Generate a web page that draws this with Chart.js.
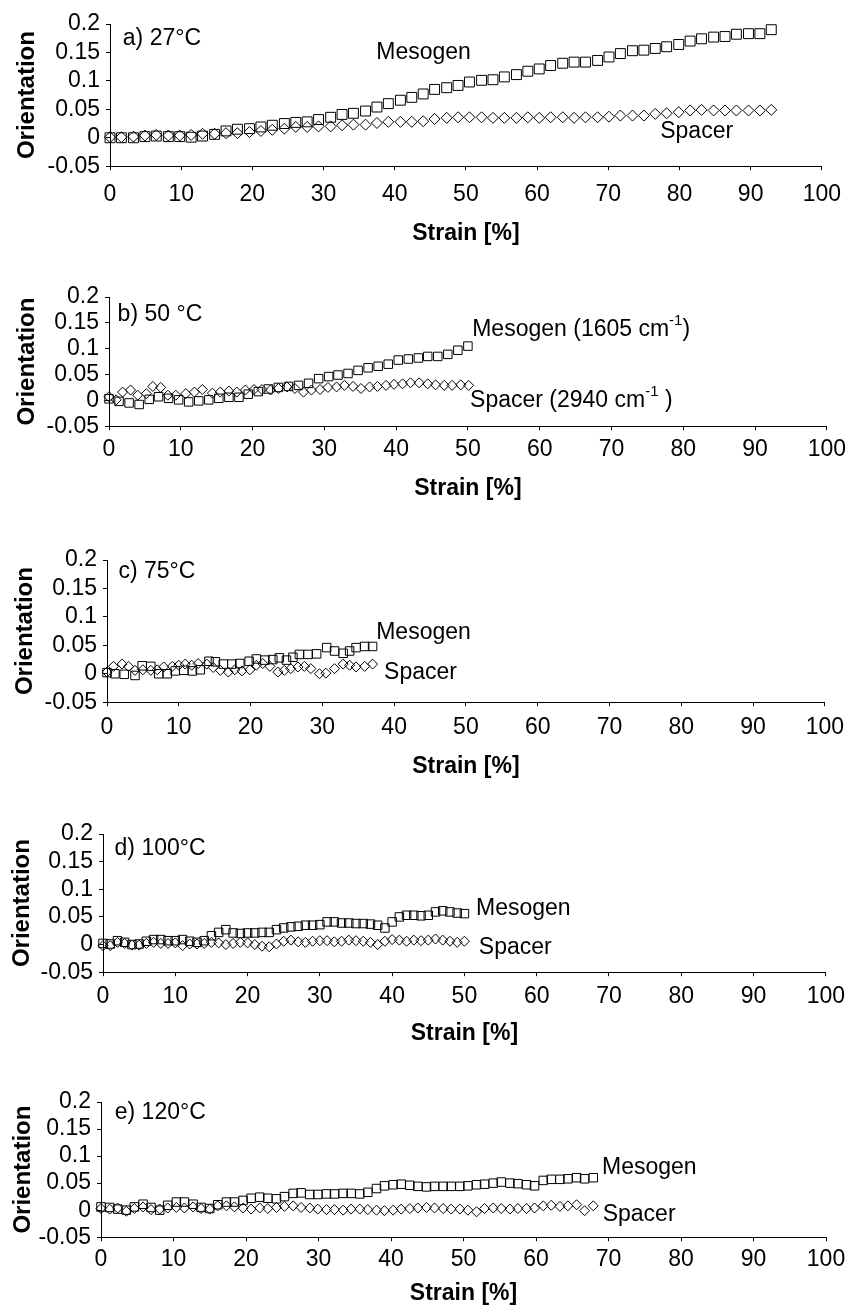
<!DOCTYPE html>
<html lang="en">
<head>
<meta charset="UTF-8">
<title>Orientation vs Strain</title>
<script src="https://cdn.jsdelivr.net/npm/chart.js@4.4.0/dist/chart.umd.min.js"></script>
<style>
body { margin: 0; background: #fff; }
#page { position: relative; width: 852px; height: 1313px; }
#page canvas { position: absolute; left: 0; }
</style>
</head>
<body>
<div id="page">
    <canvas id="panelA"></canvas>
    <canvas id="panelB"></canvas>
    <canvas id="panelC"></canvas>
    <canvas id="panelD"></canvas>
    <canvas id="panelE"></canvas>
</div>
<script>
const xTickLabels = ['0', '10', '20', '30', '40', '50', '60', '70', '80', '90', '100'];
const yTickLabels = ['-0.05', '0', '0.05', '0.1', '0.15', '0.2'];

// a) 27°C
const strainA = [0, 1.6, 3.3, 4.9, 6.5, 8.2, 9.8, 11.4, 13.0, 14.7, 16.3, 17.9, 19.6, 21.2, 22.8, 24.5, 26.1, 27.7, 29.3, 31.0,
    32.6, 34.2, 35.9, 37.5, 39.1, 40.8, 42.4, 44.0, 45.6, 47.3, 48.9, 50.5, 52.2, 53.8, 55.4, 57.1, 58.7, 60.3, 61.9, 63.6,
    65.2, 66.8, 68.5, 70.1, 71.7, 73.4, 75.0, 76.6, 78.2, 79.9, 81.5, 83.1, 84.8, 86.4, 88.0, 89.7, 91.3, 92.9];
const mesogenA = [0, 0, 0, 0.002, 0.003, 0.002, 0.002, 0.001, 0.003, 0.006, 0.012, 0.015, 0.016, 0.019, 0.022, 0.025, 0.027, 0.028, 0.032, 0.036,
    0.041, 0.043, 0.047, 0.054, 0.060, 0.066, 0.071, 0.077, 0.085, 0.088, 0.092, 0.098, 0.101, 0.102, 0.107, 0.111, 0.117, 0.121, 0.127, 0.131,
    0.133, 0.133, 0.136, 0.142, 0.148, 0.153, 0.154, 0.157, 0.160, 0.164, 0.170, 0.174, 0.177, 0.178, 0.182, 0.183, 0.183, 0.190];
const spacerA = [0.001, 0.001, 0.002, 0.004, 0.005, 0.004, 0.004, 0.005, 0.007, 0.007, 0.008, 0.008, 0.010, 0.012, 0.014, 0.016, 0.019, 0.019, 0.020, 0.020,
    0.022, 0.023, 0.023, 0.026, 0.028, 0.028, 0.028, 0.029, 0.033, 0.035, 0.036, 0.036, 0.036, 0.035, 0.035, 0.035, 0.036, 0.035, 0.036, 0.036,
    0.035, 0.036, 0.036, 0.037, 0.039, 0.039, 0.039, 0.042, 0.043, 0.045, 0.048, 0.049, 0.048, 0.048, 0.048, 0.048, 0.048, 0.049];

// b) 50 °C
const strainMesogenB = [0, 1.4, 2.8, 4.2, 5.6, 6.9, 8.3, 9.7, 11.1, 12.5, 13.9, 15.3, 16.7, 18.1, 19.4, 20.8, 22.2, 23.6, 25.0,
    26.4, 27.8, 29.2, 30.6, 31.9, 33.3, 34.7, 36.1, 37.5, 38.9, 40.3, 41.7, 43.1, 44.4, 45.8, 47.2, 48.6, 50.0];
const mesogenB = [0.003, -0.002, -0.005, -0.008, 0.002, 0.007, 0.004, 0.001, -0.003, -0.001, 0.001, 0.004, 0.006, 0.006, 0.012, 0.017, 0.022, 0.025, 0.027,
    0.029, 0.033, 0.042, 0.046, 0.049, 0.052, 0.058, 0.063, 0.066, 0.070, 0.078, 0.080, 0.082, 0.085, 0.085, 0.089, 0.097, 0.105];
const strainSpacerB = [0, 1.0, 1.9, 3.0, 4.0, 5.2, 6.1, 7.2, 8.2, 9.3, 10.7, 11.9, 13.0, 14.4, 15.5, 16.7, 17.8, 19.0, 20.2, 21.3, 22.5, 23.6, 24.8,
    25.9, 27.1, 28.2, 29.4, 30.5, 31.7, 32.8, 34.0, 35.1, 36.3, 37.4, 38.6, 39.7, 40.9, 42.0, 43.2, 44.4, 45.5, 46.7, 47.8, 49.0, 50.1];
const spacerB = [0.007, 0.001, 0.016, 0.020, 0.010, 0.013, 0.027, 0.025, 0.010, 0.010, 0.013, 0.016, 0.021, 0.014, 0.016, 0.018, 0.016, 0.020, 0.021, 0.021, 0.020, 0.023, 0.026,
    0.023, 0.016, 0.020, 0.021, 0.025, 0.026, 0.029, 0.027, 0.023, 0.026, 0.027, 0.029, 0.031, 0.032, 0.034, 0.034, 0.032, 0.030, 0.029, 0.029, 0.030, 0.029];

// c) 75°C
const strainMesogenC = [0, 1.1, 2.4, 3.9, 4.9, 6.1, 7.2, 8.4, 9.5, 10.7, 11.9, 13.0, 14.2, 15.1, 16.2, 17.4, 18.5, 19.8, 20.8, 22.0,
    23.1, 24.0, 25.0, 25.9, 26.8, 28.0, 29.2, 30.6, 31.7, 32.9, 33.8, 34.7, 35.9, 37.0];
const mesogenC = [0.002, 0, -0.001, -0.003, 0.014, 0.013, 0, 0, 0.005, 0.006, 0.005, 0.007, 0.022, 0.021, 0.017, 0.017, 0.018, 0.022, 0.026, 0.024,
    0.025, 0.028, 0.024, 0.029, 0.034, 0.034, 0.035, 0.046, 0.040, 0.036, 0.040, 0.046, 0.048, 0.048];
const strainSpacerC = [0, 0.9, 2.1, 3.0, 3.9, 5.0, 6.1, 7.0, 7.9, 9.1, 10.0, 10.9, 11.8, 12.7, 13.9, 14.8, 15.8, 16.9, 17.8, 18.8,
    19.9, 20.8, 21.7, 22.7, 23.8, 24.7, 25.6, 26.6, 27.5, 28.4, 29.6, 30.5, 31.7, 32.9, 33.8, 34.7, 35.9, 37.0];
const spacerC = [0.003, 0.013, 0.017, 0.013, 0.006, 0.007, 0.006, 0.007, 0.012, 0.013, 0.015, 0.017, 0.015, 0.018, 0.017, 0.011, 0.006, 0.003, 0.007, 0.005,
    0.007, 0.015, 0.018, 0.013, 0.003, 0.006, 0.009, 0.012, 0.013, 0.009, 0, 0.001, 0.009, 0.017, 0.015, 0.012, 0.013, 0.017];

// d) 100°C
const strainD = [0, 1, 2, 3, 4, 5, 6, 7, 8, 9, 10, 11, 12, 13, 14, 15, 16, 17, 18, 19, 20, 21, 22, 23, 24, 25,
    26, 27, 28, 29, 30, 31, 32, 33, 34, 35, 36, 37, 38, 39, 40, 41, 42, 43, 44, 45, 46, 47, 48, 49, 50];
const mesogenD = [0.002, 0.001, 0.007, 0.004, 0, 0.001, 0.006, 0.009, 0.009, 0.007, 0.007, 0.009, 0.006, 0.004, 0.007, 0.016, 0.022, 0.027, 0.021, 0.020, 0.021, 0.021, 0.022, 0.022, 0.027, 0.030,
    0.032, 0.033, 0.035, 0.035, 0.036, 0.041, 0.041, 0.039, 0.039, 0.038, 0.038, 0.037, 0.035, 0.030, 0.041, 0.050, 0.053, 0.053, 0.052, 0.053, 0.059, 0.061, 0.059, 0.057, 0.056];
const spacerD = [-0.002, -0.002, 0.004, 0.002, -0.001, -0.001, 0.002, 0.004, 0.002, 0.002, 0.003, -0.002, 0.001, 0.001, 0.002, 0.004, 0.003, 0, 0.002, 0.004, 0.003, 0, -0.003, -0.004, 0.001, 0.006,
    0.008, 0.005, 0.004, 0.006, 0.007, 0.007, 0.005, 0.006, 0.008, 0.007, 0.006, 0.004, 0, 0.006, 0.009, 0.008, 0.006, 0.008, 0.007, 0.008, 0.010, 0.008, 0.006, 0.004, 0.006];

// e) 120°C
const strainE = [0, 1.2, 2.3, 3.5, 4.6, 5.8, 6.9, 8.1, 9.2, 10.4, 11.5, 12.7, 13.8, 15.0, 16.1, 17.3, 18.4, 19.6, 20.7, 21.9,
    23.0, 24.2, 25.3, 26.5, 27.6, 28.8, 29.9, 31.1, 32.2, 33.4, 34.5, 35.7, 36.8, 38.0, 39.1, 40.3, 41.4, 42.6, 43.7, 44.9,
    46.0, 47.2, 48.3, 49.5, 50.6, 51.8, 52.9, 54.1, 55.2, 56.4, 57.5, 58.7, 59.8, 61.0, 62.1, 63.3, 64.4, 65.6, 66.7, 67.9];
const mesogenE = [0.006, 0.005, 0.002, 0, 0.006, 0.011, 0.005, 0, 0.009, 0.015, 0.015, 0.011, 0.005, 0.003, 0.010, 0.015, 0.015, 0.018, 0.022, 0.024,
    0.022, 0.021, 0.025, 0.031, 0.032, 0.029, 0.029, 0.030, 0.030, 0.031, 0.031, 0.030, 0.033, 0.040, 0.045, 0.047, 0.048, 0.046, 0.044, 0.043,
    0.044, 0.044, 0.044, 0.044, 0.045, 0.047, 0.048, 0.050, 0.052, 0.050, 0.049, 0.047, 0.045, 0.055, 0.057, 0.057, 0.058, 0.060, 0.058, 0.060];
const spacerE = [0.003, 0.002, 0.004, -0.002, 0.003, 0.006, 0.001, 0.002, 0.004, 0.005, 0.004, 0.006, 0.003, 0.002, 0.008, 0.008, 0.006, 0.004, 0.002, 0.004,
    0.003, 0.005, 0.007, 0.008, 0.005, 0.004, 0.002, 0.001, 0.001, 0, 0.002, 0.002, 0.001, 0, -0.001, 0, 0.002, 0.003, 0.004, 0.005,
    0.004, 0.003, 0.002, 0.002, 0, -0.003, 0.003, 0.004, 0.003, 0.002, 0.003, 0.003, 0.004, 0.008, 0.009, 0.007, 0.008, 0.010, -0.001, 0.008];

const FONT = '"Liberation Sans", Arial, Helvetica, sans-serif';
Chart.defaults.font.family = FONT;
Chart.defaults.font.size = 23;
Chart.defaults.color = '#000';

// text boxes placed in data coordinates of each panel
const notesPlugin = {
    id: 'notes',
    afterDatasetsDraw(chart, args, opts) {
        const { ctx, scales: { x, y } } = chart;
        ctx.save();
        ctx.fillStyle = '#000';
        ctx.textBaseline = 'middle';
        ctx.textAlign = 'left';
        (opts.items || []).forEach(n => {
            let px = x.getPixelForValue(n.x);
            const py = y.getPixelForValue(n.y);
            n.parts.forEach(p => {
                ctx.font = (p.sup ? '15px ' : '23px ') + FONT;
                ctx.fillText(p.text, px, p.sup ? py - 9 : py);
                px += ctx.measureText(p.text).width;
            });
        });
        ctx.restore();
    }
};

const txt = s => [{ text: s }];

const panels = [
    { id: 'panelA', L: 110, R: 832, T: 24, B: 166, tickPad: 11, titleOff: 67, yTitlePad: 13, sq: 7, dm: 5.5,
      mesogen: [strainA, mesogenA], spacer: [strainA, spacerA],
      notes: [
          { x: 1.8, y: 0.175, parts: txt('a) 27°C') },
          { x: 37.4, y: 0.149, parts: txt('Mesogen') },
          { x: 77.3, y: 0.010, parts: txt('Spacer') }
      ] },
    { id: 'panelB', L: 109, R: 832, T: 297, B: 426, tickPad: 6, titleOff: 62, yTitlePad: 13, sq: 6, dm: 5,
      mesogen: [strainMesogenB, mesogenB], spacer: [strainSpacerB, spacerB],
      notes: [
          { x: 1.2, y: 0.165, parts: txt('b) 50 °C') },
          { x: 50.6, y: 0.136, parts: [{ text: 'Mesogen (1605 cm' }, { text: '-1', sup: true }, { text: ')' }] },
          { x: 50.3, y: 0.0, parts: [{ text: 'Spacer (2940 cm' }, { text: '-1', sup: true }, { text: ' )' }] }
      ] },
    { id: 'panelC', L: 107, R: 830, T: 560, B: 702, tickPad: 8, titleOff: 64, yTitlePad: 11, sq: 6, dm: 5,
      mesogen: [strainMesogenC, mesogenC], spacer: [strainSpacerC, spacerC],
      notes: [
          { x: 1.6, y: 0.179, parts: txt('c) 75°C') },
          { x: 37.5, y: 0.073, parts: txt('Mesogen') },
          { x: 38.6, y: 0.0025, parts: txt('Spacer') }
      ] },
    { id: 'panelD', L: 103, R: 827, T: 834, B: 972, tickPad: 7, titleOff: 61, yTitlePad: 8, sq: 6, dm: 5,
      mesogen: [strainD, mesogenD], spacer: [strainD, spacerD],
      notes: [
          { x: 1.6, y: 0.174, parts: txt('d) 100°C') },
          { x: 51.6, y: 0.065, parts: txt('Mesogen') },
          { x: 52.0, y: -0.005, parts: txt('Spacer') }
      ] },
    { id: 'panelE', L: 101, R: 826, T: 1102, B: 1237, tickPad: 5, titleOff: 56, yTitlePad: 9, sq: 6, dm: 5,
      mesogen: [strainE, mesogenE], spacer: [strainE, spacerE],
      notes: [
          { x: 1.9, y: 0.181, parts: txt('e) 120°C') },
          { x: 69.1, y: 0.079, parts: txt('Mesogen') },
          { x: 69.2, y: -0.008, parts: txt('Spacer') }
      ] }
];

const toPoints = ([xs, ys]) => xs.map((x, i) => ({ x: x, y: ys[i] }));

panels.forEach(p => {
    const padTop = 24;
    const xAxisH = p.titleOff + 13.8;
    const canvas = document.getElementById(p.id);
    canvas.width = 852;
    canvas.height = Math.round(padTop + (p.B - p.T) + xAxisH + 2);
    canvas.style.top = (p.T - padTop) + 'px';

    const axisLine = { display: true, color: '#000', width: 1 };
    const tickMarks = { display: true, drawOnChartArea: false, drawTicks: true, tickLength: 4, color: '#000', lineWidth: 1 };

    new Chart(canvas, {
        type: 'scatter',
        data: {
            datasets: [{
                label: 'Mesogen',
                data: toPoints(p.mesogen),
                pointStyle: 'rect',
                pointRadius: p.sq,
                borderColor: '#000',
                backgroundColor: 'rgba(255,255,255,0)',
                borderWidth: 1,
                clip: false
            }, {
                label: 'Spacer',
                data: toPoints(p.spacer),
                pointStyle: 'rectRot',
                pointRadius: p.dm,
                borderColor: '#000',
                backgroundColor: 'rgba(255,255,255,0)',
                borderWidth: 1,
                clip: false
            }]
        },
        options: {
            responsive: false,
            animation: false,
            devicePixelRatio: 1,
            events: [],
            layout: { padding: { top: padTop, right: 852 - p.R, bottom: 2, left: 0 } },
            plugins: {
                legend: { display: false },
                tooltip: { enabled: false },
                notes: { items: p.notes }
            },
            scales: {
                x: {
                    type: 'linear',
                    min: 0,
                    max: 100,
                    border: axisLine,
                    grid: tickMarks,
                    ticks: {
                        stepSize: 10,
                        autoSkip: false,
                        padding: p.tickPad,
                        maxRotation: 0,
                        callback: (v, i) => xTickLabels[i]
                    },
                    title: {
                        display: true,
                        text: 'Strain [%]',
                        font: { weight: 'bold', size: 23 },
                        padding: { top: 0, bottom: 0 }
                    },
                    afterFit: s => { s.height = xAxisH; }
                },
                y: {
                    type: 'linear',
                    min: -0.05,
                    max: 0.2,
                    border: axisLine,
                    grid: tickMarks,
                    ticks: {
                        stepSize: 0.05,
                        autoSkip: false,
                        padding: 6,
                        callback: (v, i) => yTickLabels[i]
                    },
                    title: {
                        display: true,
                        text: 'Orientation',
                        font: { weight: 'bold', size: 24 },
                        padding: { top: p.yTitlePad, bottom: 0 }
                    },
                    afterFit: s => { s.width = p.L; }
                }
            }
        },
        plugins: [notesPlugin]
    });
});
</script>
</body>
</html>
